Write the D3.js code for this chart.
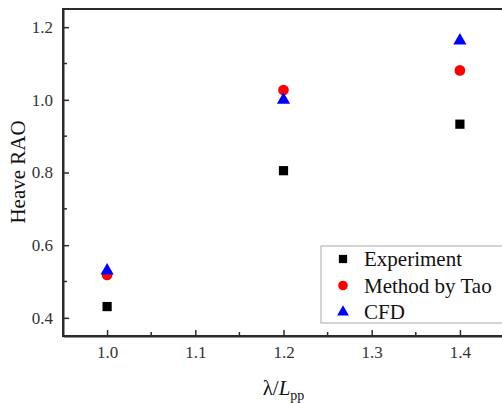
<!DOCTYPE html>
<html>
<head>
<meta charset="utf-8">
<script src="https://cdn.jsdelivr.net/npm/d3@7"></script>
<style>
  body { margin: 0; background: #fff; }
  svg text { font-family: "Liberation Serif", "Times New Roman", "DejaVu Serif", serif; }
</style>
</head>
<body>
<div id="chart"></div>
<script>
const xValues = [1.0, 1.2, 1.4];
const experiment = [0.431, 0.805, 0.933];
const methodByTao = [0.518, 1.027, 1.081];
const cfd = [0.530, 1.000, 1.163];
const xTicks = [1.0, 1.1, 1.2, 1.3, 1.4];
const yTicks = [0.4, 0.6, 0.8, 1.0, 1.2];
const seriesNames = ['Experiment', 'Method by Tao', 'CFD'];

const width = 502, height = 403;
const margin = {left: 63, top: 9, right: -2, bottom: 67};

const svg = d3.select('#chart').append('svg')
    .attr('width', width)
    .attr('height', height);

const x = d3.scaleLinear().domain([0.95, 1.45]).range([margin.left, width - margin.right]);
const y = d3.scaleLinear().domain([0.35, 1.25]).range([height - margin.bottom, margin.top]);

const axisColor = '#2b2b2b';

// frame
svg.append('rect')
    .attr('x', x(0.95)).attr('y', y(1.25))
    .attr('width', x(1.45) - x(0.95)).attr('height', y(0.35) - y(1.25))
    .attr('fill', 'none').attr('stroke', axisColor).attr('stroke-width', 2);

// minor ticks halfway between majors
const minorX = d3.range(1.05, 1.45, 0.1);
const minorY = d3.range(0.5, 1.25, 0.2);

const xAxis = svg.append('g')
    .attr('transform', `translate(0,${y(0.35)})`)
    .call(d3.axisBottom(x).tickValues(xTicks).tickFormat(d3.format('.1f')).tickSizeInner(-6).tickSizeOuter(0).tickPadding(10));
xAxis.append('g').selectAll('line').data(minorX).join('line')
    .attr('x1', d => x(d)).attr('x2', d => x(d)).attr('y1', 0).attr('y2', -4);

const yAxis = svg.append('g')
    .attr('transform', `translate(${x(0.95)},0)`)
    .call(d3.axisLeft(y).tickValues(yTicks).tickFormat(d3.format('.1f')).tickSizeInner(-6).tickSizeOuter(0).tickPadding(10));
yAxis.append('g').selectAll('line').data(minorY).join('line')
    .attr('y1', d => y(d)).attr('y2', d => y(d)).attr('x1', 0).attr('x2', 4);

[xAxis, yAxis].forEach(g => {
  g.attr('font-family', null).attr('font-size', null);
  g.select('.domain').attr('stroke', axisColor).attr('stroke-width', 2);
  g.selectAll('line').attr('stroke', axisColor).attr('stroke-width', 1.5);
  g.selectAll('text').attr('font-size', 17).attr('fill', '#333');
});

// markers
const shapes = [d3.symbolSquare, d3.symbolCircle, d3.symbolTriangle];
const sizes = [85, 90, 75];
const colors = ['#000', '#ff0000', '#0000ff'];
const allSeries = [experiment, methodByTao, cfd];

allSeries.forEach((vals, s) => {
  svg.append('g').selectAll('path').data(vals).join('path')
      .attr('d', d3.symbol().type(shapes[s]).size(sizes[s]))
      .attr('transform', (d, i) => `translate(${x(xValues[i])},${y(d)})`)
      .attr('fill', colors[s]);
});

// legend
const legend = svg.append('g').attr('transform', 'translate(321,246)');
legend.append('rect')
    .attr('x', 0).attr('y', 0).attr('width', 190).attr('height', 77)
    .attr('fill', '#fff').attr('stroke', '#aaa').attr('stroke-width', 1);
seriesNames.forEach((name, i) => {
  const row = legend.append('g').attr('transform', `translate(0,${13 + i * 26.5})`);
  row.append('path')
      .attr('d', d3.symbol().type(shapes[i]).size(sizes[i] * 0.8))
      .attr('transform', 'translate(22,0)')
      .attr('fill', colors[i]);
  row.append('text')
      .attr('x', 43).attr('y', 7)
      .attr('font-size', 21).attr('fill', '#111')
      .text(name);
});

// axis titles
svg.append('text')
    .attr('transform', `translate(25,172) rotate(-90)`)
    .attr('text-anchor', 'middle')
    .attr('font-size', 21).attr('fill', '#111')
    .text('Heave RAO');

const xt = svg.append('text')
    .attr('x', (x(0.95) + x(1.45)) / 2).attr('y', 395)
    .attr('text-anchor', 'middle')
    .attr('font-size', 21).attr('fill', '#111');
xt.append('tspan').text('λ/');
xt.append('tspan').attr('font-style', 'italic').text('L');
xt.append('tspan').attr('font-size', 14).attr('dy', 5).text('pp');
</script>
</body>
</html>
